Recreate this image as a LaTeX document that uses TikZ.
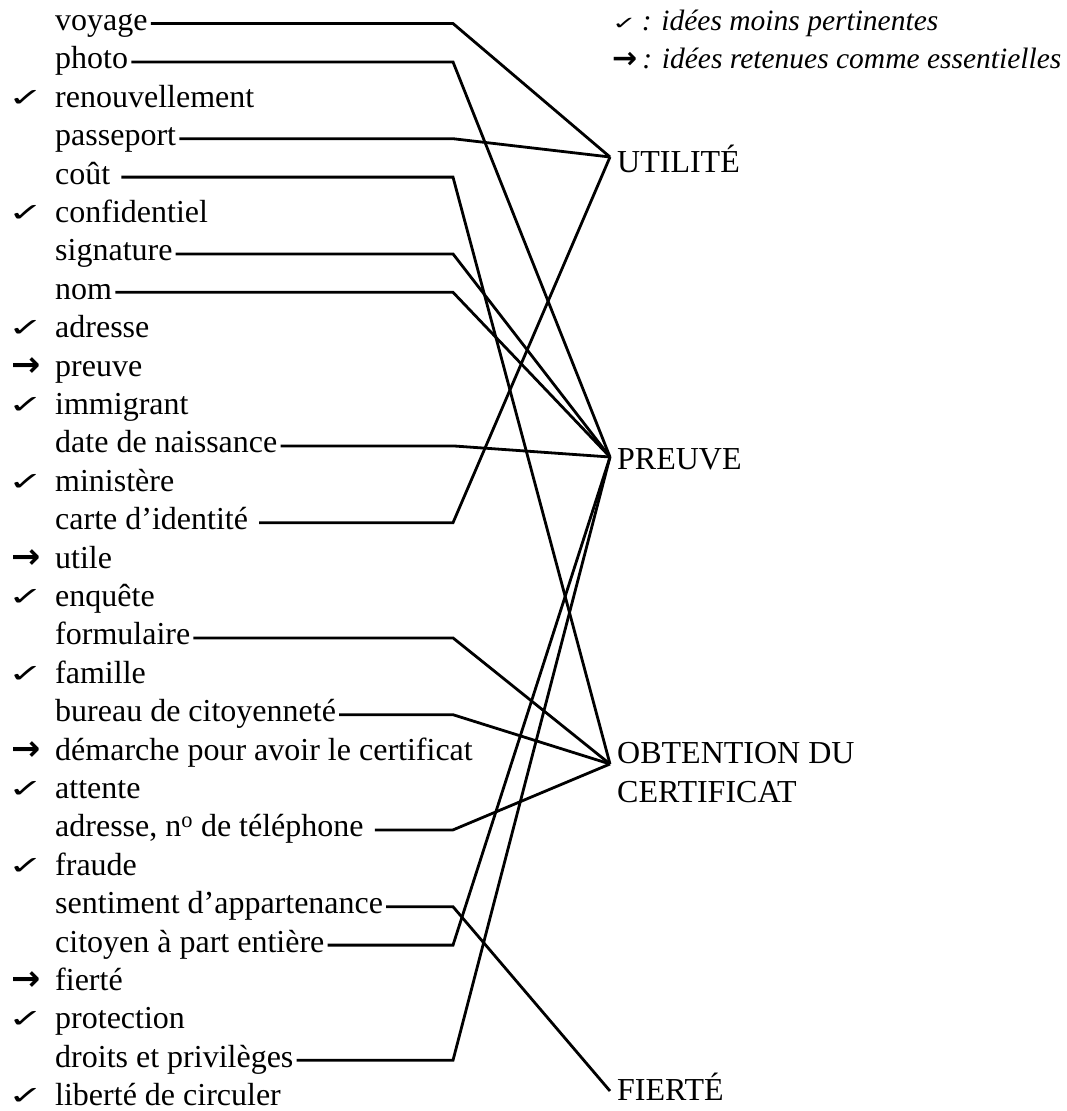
\documentclass[tikz,border=0pt]{standalone}
\usepackage{fontspec}
\usepackage{graphicx}
\setmainfont{Liberation Serif}
\newfontfamily\symfont{DejaVu Sans}
\newcommand{\chk}{\raisebox{1pt}{\scalebox{1.4}[0.85]{\symfont\bfseries ✓}}}
\newcommand{\arr}{{\symfont\bfseries →}}
\begin{document}
\begin{tikzpicture}[x=1pt,y=-1pt,
  item/.style={font=\fontsize{32}{38.4}\selectfont, inner sep=0pt, anchor=base west},
  mk/.style={font=\fontsize{30}{30}\selectfont, inner sep=0pt, anchor=base west},
  mkarr/.style={font=\fontsize{35}{35}\selectfont, inner sep=0pt, anchor=base west},
  cat/.style={font=\fontsize{32}{38.4}\selectfont, inner sep=0pt, anchor=base west, align=left},
  leg/.style={font=\fontsize{29.5}{35}\selectfont\itshape, inner sep=0pt, anchor=base west},
  conn/.style={line width=2.8pt}]
\useasboundingbox (0,0) rectangle (1066,1111);

% list items
\foreach \k/\txt in {
  1/voyage, 2/photo, 3/renouvellement, 4/passeport, 5/coût, 6/confidentiel,
  7/signature, 8/nom, 9/adresse, 10/preuve, 11/immigrant, 12/date de naissance,
  13/ministère, 14/carte d’identité, 15/utile, 16/enquête, 17/formulaire,
  18/famille, 19/bureau de citoyenneté, 20/démarche pour avoir le certificat,
  21/attente, 22/{adresse, n\textsuperscript{o} de téléphone}, 23/fraude,
  24/sentiment d’appartenance, 25/citoyen à part entière, 26/fierté,
  27/protection, 28/droits et privilèges, 29/liberté de circuler}
  \node[item] (n\k) at (55, {30.5+(\k-1)*38.4}) {\txt};

% check marks
\foreach \k in {3,6,9,11,13,16,18,21,23,27,29}
  \node[mk] (c\k) at (8, {30.5+(\k-1)*38.4}) {\chk};
% arrows
\foreach \k in {10,15,20,26}
  \node[mkarr] (a\k) at (11, {30.5+(\k-1)*38.4}) {\arr};

% legend
\node[leg] (L1) at (612, 30) {\upshape{\fontsize{21}{21}\selectfont\chk}\itshape\,: idées moins pertinentes};
\node[leg] (L2) at (612, 68) {\upshape{\fontsize{30}{30}\selectfont\arr}\itshape\,: idées retenues comme essentielles};

% categories
\node[cat] (U) at (617, 172) {UTILITÉ};
\node[cat] (P) at (617, 469) {PREUVE};
\node[cat] (O) at (617, 802) {OBTENTION DU\\CERTIFICAT};
\node[cat] (F) at (617, 1100) {FIERTÉ};
\coordinate (Uc) at ([shift={(-7pt,15pt)}]U.base west);
\coordinate (Pc) at ([shift={(-7pt,12pt)}]P.base west);
\coordinate (Oc) at ([shift={(-7pt,38pt)}]O.base west);
\coordinate (Fc) at ([shift={(-7pt,9pt)}]F.base west);

% connectors
\foreach \k/\tg/\gp in {1/U/3, 2/P/3, 4/U/3, 5/O/11, 7/P/3, 8/P/3, 12/P/3,
  14/U/11, 17/O/3, 19/O/3, 22/O/11, 24/F/3, 25/P/3, 28/P/3}
  \draw[conn] (n\k.base east) ++(\gp pt,7pt) -- (453, {23.5+(\k-1)*38.4}) -- (\tg c);
\end{tikzpicture}
\end{document}
